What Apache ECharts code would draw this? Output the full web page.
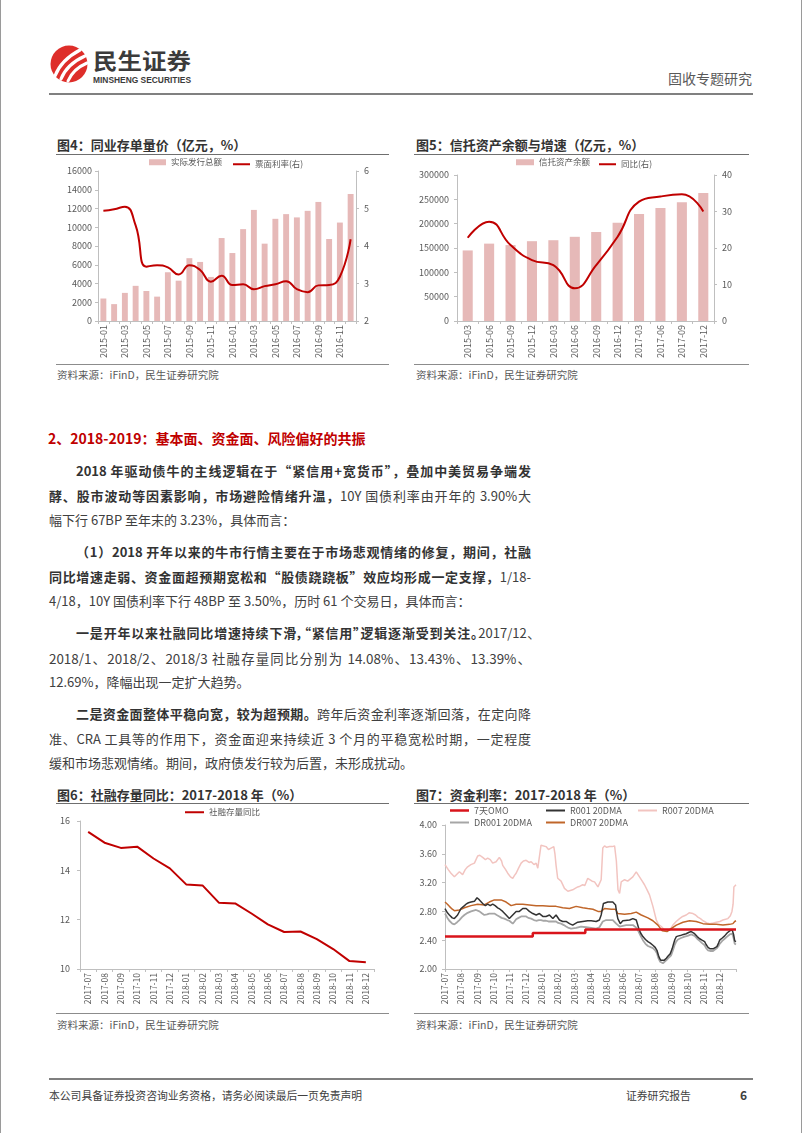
<!DOCTYPE html>
<html><head><meta charset="utf-8">
<script src="https://cdn.jsdelivr.net/npm/echarts@6/dist/echarts.min.js"></script>
<style>
html,body{margin:0;padding:0;background:#fff;}
#page{position:relative;width:802px;height:1133px;overflow:hidden;font-family:'Noto Sans CJK SC','Noto Sans',sans-serif;color:#404040;box-sizing:border-box;border-left:1px solid #9a9a9a;border-right:1px solid #9a9a9a;}
.a{position:absolute;white-space:nowrap;}
.ln{position:absolute;height:20px;line-height:20px;font-size:13px;white-space:nowrap;color:#404040;}
.j{text-align:justify;text-align-last:justify;}
.p{font-feature-settings:"palt";}
.ln b{color:#333;font-weight:700;}
.ttl{position:absolute;font-size:13px;font-weight:700;color:#333;height:18px;line-height:18px;white-space:nowrap;}
.rule{position:absolute;height:1px;background:#6f6f6f;}
.src{position:absolute;font-size:10.5px;color:#595959;height:14px;line-height:14px;white-space:nowrap;}
#chart{position:absolute;left:0;top:0;width:802px;height:1133px;}
</style></head>
<body>
<div id="page">
  <svg class="a" style="left:0;top:0" width="260" height="100" viewBox="0 0 260 100">
    <circle cx="68" cy="64" r="18.5" fill="#DE2E2A"/>
    <path d="M54,76 Q60,60 79,50" stroke="#fff" stroke-width="3.2" fill="none" stroke-linecap="round"/>
    <path d="M60,79 Q66,64 84,56" stroke="#fff" stroke-width="3.2" fill="none" stroke-linecap="round"/>
    <path d="M67,81 Q72,69 86,63" stroke="#fff" stroke-width="3" fill="none" stroke-linecap="round"/>
    <text x="92" y="69" font-size="22" font-weight="700" fill="#3b3b3b" font-family="Noto Sans CJK SC" textLength="98" lengthAdjust="spacingAndGlyphs">民生证券</text>
    <text x="92" y="82.5" font-size="8.5" font-weight="700" fill="#3b3b3b" font-family="Liberation Sans" textLength="98" lengthAdjust="spacingAndGlyphs">MINSHENG SECURITIES</text>
  </svg>
  <div class="a" style="right:49px;top:69px;font-size:14px;color:#595959;line-height:18px;">固收专题研究</div>
  <div class="a" style="left:48px;top:93px;width:704px;height:2px;background:#808080;"></div>

  <div class="ttl" style="left:56px;top:136px;">图4：同业存单量价（亿元，%）</div>
  <div class="rule" style="left:55px;top:154px;width:333px;"></div>
  <div class="rule" style="left:55px;top:364px;width:333px;background:#8c8c8c;"></div>
  <div class="src" style="left:56px;top:368px;">资料来源：iFinD，民生证券研究院</div>

  <div class="ttl" style="left:415px;top:136px;">图5：信托资产余额与增速（亿元，%）</div>
  <div class="rule" style="left:413px;top:154px;width:335px;"></div>
  <div class="rule" style="left:413px;top:364px;width:335px;background:#8c8c8c;"></div>
  <div class="src" style="left:415px;top:368px;">资料来源：iFinD，民生证券研究院</div>

  <div class="a" style="left:47px;top:429px;font-size:14px;font-weight:700;color:#C00000;line-height:18px;">2、2018-2019：基本面、资金面、风险偏好的共振</div>

  <div class="ln j" style="left:75px;top:461px;width:455px;"><b>2018 年驱动债牛的主线逻辑在于“紧信用+宽货币”，叠加中美贸易争端发</b></div>
  <div class="ln j" style="left:48px;top:485.5px;width:482px;"><b>酵、股市波动等因素影响，市场避险情绪升温，</b>10Y 国债利率由开年的 3.90%大</div>
  <div class="ln" style="left:48px;top:510px;">幅下行 67BP 至年末的 3.23%，具体而言：</div>

  <div class="ln j" style="left:75px;top:542px;width:455px;"><b>（1）2018 开年以来的牛市行情主要在于市场悲观情绪的修复，期间，社融</b></div>
  <div class="ln j" style="left:48px;top:566.5px;width:482px;"><b>同比增速走弱、资金面超预期宽松和“股债跷跷板”效应均形成一定支撑，</b>1/18-</div>
  <div class="ln" style="left:48px;top:591px;">4/18，10Y 国债利率下行 48BP 至 3.50%，历时 61 个交易日，具体而言：</div>

  <div class="ln j p" style="left:75px;top:623px;width:458px;"><b>一是开年以来社融同比增速持续下滑，“紧信用”逻辑逐渐受到关注。</b>2017/12、</div>
  <div class="ln j" style="left:48px;top:647.5px;width:482px;font-size:13.4px;">2018/1、2018/2、2018/3 社融存量同比分别为 14.08%、13.43%、13.39%、</div>
  <div class="ln" style="left:48px;top:672px;">12.69%，降幅出现一定扩大趋势。</div>

  <div class="ln j" style="left:75px;top:704px;width:455px;"><b>二是资金面整体平稳向宽，较为超预期。</b>跨年后资金利率逐渐回落，在定向降</div>
  <div class="ln j" style="left:48px;top:728.5px;width:482px;">准、CRA 工具等的作用下，资金面迎来持续近 3 个月的平稳宽松时期，一定程度</div>
  <div class="ln" style="left:48px;top:753px;">缓和市场悲观情绪。期间，政府债发行较为后置，未形成扰动。</div>

  <div class="ttl" style="left:56px;top:786px;">图6：社融存量同比：2017-2018 年（%）</div>
  <div class="rule" style="left:55px;top:803px;width:333px;"></div>
  <div class="rule" style="left:55px;top:1013px;width:333px;background:#8c8c8c;"></div>
  <div class="src" style="left:56px;top:1018px;">资料来源：iFinD，民生证券研究院</div>

  <div class="ttl" style="left:415px;top:786px;">图7：资金利率：2017-2018 年（%）</div>
  <div class="rule" style="left:413px;top:803px;width:335px;"></div>
  <div class="rule" style="left:413px;top:1013px;width:335px;background:#8c8c8c;"></div>
  <div class="src" style="left:415px;top:1018px;">资料来源：iFinD，民生证券研究院</div>

  <div class="a" style="left:48px;top:1078px;width:704px;height:1.5px;background:#7f7f7f;"></div>
  <div class="a" style="left:48px;top:1088px;font-size:10.8px;color:#404040;line-height:15px;">本公司具备证券投资咨询业务资格，请务必阅读最后一页免责声明</div>
  <div class="a" style="left:625px;top:1088px;font-size:10.8px;color:#404040;line-height:15px;">证券研究报告</div>
  <div class="a" style="left:739px;top:1087px;font-size:12px;font-weight:700;color:#404040;line-height:15px;">6</div>

  <div id="chart"></div>
</div>
<script>
// ---------- Figure 4 ----------
const c4Months = ['2015-01','2015-02','2015-03','2015-04','2015-05','2015-06','2015-07','2015-08','2015-09','2015-10','2015-11','2015-12',
                  '2016-01','2016-02','2016-03','2016-04','2016-05','2016-06','2016-07','2016-08','2016-09','2016-10','2016-11','2016-12'];
const c4Issue = [2400,1800,3000,3750,3200,2600,5200,4300,6700,6300,4700,8850,7250,9800,11850,8250,10900,11400,11050,11750,12700,8750,10500,13550];
const c4Rate  = [4.94,4.98,5.05,4.55,3.45,3.49,3.43,3.24,3.49,3.36,3.05,3.21,2.96,2.98,2.85,2.93,2.98,3.06,2.85,2.77,2.95,2.96,3.18,4.18];

// ---------- Figure 5 ----------
const c5Quarters = ['2015-03','2015-06','2015-09','2015-12','2016-03','2016-06','2016-09','2016-12','2017-03','2017-06','2017-09','2017-12'];
const c5Assets = [145000,159000,156000,164000,166000,173000,183000,202000,220000,232000,244000,263000];
const c5Growth = [22.8,27.2,20.8,16.7,15.3,8.95,15.3,23.1,32.7,34.1,34.7,30.0];

// ---------- Figure 6 ----------
const c6Months = ['2017-07','2017-08','2017-09','2017-10','2017-11','2017-12','2018-01','2018-02','2018-03','2018-04','2018-05','2018-06',
                  '2018-07','2018-08','2018-09','2018-10','2018-11','2018-12'];
const c6Tsf = [15.56,15.12,14.91,14.96,14.48,14.08,13.43,13.39,12.69,12.66,12.25,11.81,11.50,11.52,11.21,10.81,10.32,10.27];

// ---------- Figure 7 (x = months elapsed since 2017-07-01) ----------
const c7Months = c6Months;
const omo = [[0,2.45],[5.43,2.50],[8.68,2.55],[18,2.55]];
const r001 = [[0,2.84],[0.15,2.78],[0.27,2.75],[0.45,2.71],[0.58,2.70],[0.78,2.75],[0.99,2.84],[1.15,2.87],[1.3,2.90],[1.45,2.92],[1.61,2.93],[1.82,2.94],[1.98,2.99],[2.13,2.96],[2.33,2.91],[2.5,2.88],[2.64,2.90],[2.8,2.88],[2.95,2.90],[3.1,2.88],[3.26,2.85],[3.4,2.83],[3.57,2.80],[3.78,2.75],[3.98,2.70],[4.1,2.72],[4.19,2.75],[4.4,2.80],[4.6,2.80],[4.81,2.84],[5.02,2.84],[5.22,2.80],[5.43,2.77],[5.64,2.75],[5.84,2.77],[6.05,2.73],[6.25,2.73],[6.46,2.75],[6.67,2.70],[6.87,2.75],[7.08,2.68],[7.28,2.66],[7.49,2.66],[7.7,2.63],[7.9,2.61],[8.05,2.63],[8.21,2.65],[8.52,2.66],[8.83,2.67],[9.04,2.67],[9.35,2.66],[9.55,2.68],[9.66,2.75],[9.8,2.91],[10.07,2.93],[10.38,2.93],[10.55,2.89],[10.62,2.78],[10.69,2.70],[10.84,2.63],[11.0,2.67],[11.11,2.69],[11.42,2.68],[11.62,2.70],[11.83,2.68],[11.99,2.56],[12.1,2.50],[12.24,2.45],[12.4,2.41],[12.55,2.38],[12.7,2.36],[12.86,2.33],[13.0,2.30],[13.11,2.26],[13.2,2.19],[13.27,2.15],[13.35,2.12],[13.44,2.11],[13.55,2.12],[13.69,2.15],[13.8,2.18],[13.93,2.21],[14.05,2.28],[14.14,2.35],[14.22,2.41],[14.31,2.45],[14.45,2.46],[14.62,2.47],[14.75,2.48],[14.92,2.49],[15.1,2.51],[15.23,2.52],[15.35,2.51],[15.44,2.49],[15.6,2.45],[15.75,2.42],[15.9,2.40],[16.06,2.38],[16.15,2.34],[16.27,2.30],[16.4,2.28],[16.58,2.28],[16.7,2.29],[16.82,2.31],[16.92,2.36],[16.99,2.40],[17.15,2.43],[17.3,2.46],[17.45,2.50],[17.61,2.53],[17.77,2.54],[17.85,2.48],[17.92,2.39],[18,2.38]];
const r007 = [[0,3.45],[0.2,3.38],[0.37,3.33],[0.58,3.28],[0.75,3.32],[0.89,3.35],[1.09,3.31],[1.25,3.38],[1.4,3.42],[1.6,3.45],[1.82,3.47],[2.02,3.57],[2.15,3.58],[2.33,3.55],[2.5,3.52],[2.64,3.54],[2.8,3.52],[2.95,3.47],[3.16,3.49],[3.36,3.55],[3.5,3.50],[3.57,3.44],[3.75,3.38],[3.88,3.33],[4.05,3.28],[4.19,3.26],[4.3,3.30],[4.4,3.33],[4.55,3.40],[4.71,3.47],[4.85,3.50],[5.02,3.51],[5.2,3.48],[5.33,3.49],[5.5,3.45],[5.64,3.47],[5.74,3.40],[5.84,3.38],[5.94,3.72],[6.05,3.73],[6.25,3.70],[6.4,3.66],[6.56,3.68],[6.73,3.70],[6.8,3.60],[6.87,3.44],[6.97,3.26],[7.18,3.22],[7.39,3.12],[7.6,3.08],[7.75,3.09],[7.9,3.10],[8.05,3.12],[8.21,3.14],[8.35,3.15],[8.52,3.17],[8.65,3.16],[8.83,3.26],[8.94,3.28],[9.1,3.22],[9.25,3.21],[9.46,3.14],[9.66,3.24],[9.76,3.68],[9.87,3.71],[10.0,3.69],[10.18,3.70],[10.35,3.70],[10.49,3.71],[10.6,3.50],[10.7,3.10],[10.8,3.05],[10.9,3.21],[11.11,3.24],[11.3,3.22],[11.42,3.24],[11.62,3.28],[11.83,3.35],[12.03,3.28],[12.2,3.22],[12.34,3.17],[12.5,3.10],[12.65,3.03],[12.86,2.87],[13.07,2.68],[13.2,2.62],[13.38,2.59],[13.55,2.55],[13.69,2.54],[13.89,2.54],[14.1,2.61],[14.3,2.66],[14.51,2.70],[14.7,2.73],[14.92,2.75],[15.1,2.78],[15.34,2.77],[15.5,2.75],[15.64,2.72],[15.8,2.70],[15.96,2.67],[16.2,2.64],[16.37,2.63],[16.6,2.64],[16.78,2.65],[17.0,2.66],[17.19,2.68],[17.35,2.69],[17.5,2.70],[17.65,2.74],[17.75,2.80],[17.82,2.90],[17.87,3.14],[18,3.17]];
const dr001 = [[0,2.77],[0.15,2.71],[0.27,2.67],[0.45,2.63],[0.58,2.62],[0.75,2.65],[0.89,2.68],[1.05,2.72],[1.2,2.75],[1.4,2.78],[1.61,2.80],[1.92,2.82],[2.13,2.80],[2.3,2.77],[2.43,2.75],[2.6,2.76],[2.74,2.77],[3.05,2.77],[3.2,2.75],[3.36,2.73],[3.5,2.71],[3.67,2.70],[3.85,2.68],[3.98,2.67],[4.19,2.63],[4.3,2.66],[4.4,2.69],[4.55,2.71],[4.71,2.73],[5.02,2.73],[5.15,2.71],[5.33,2.70],[5.5,2.68],[5.64,2.67],[5.8,2.68],[5.94,2.68],[6.1,2.67],[6.25,2.67],[6.4,2.66],[6.56,2.66],[6.87,2.66],[7.0,2.64],[7.18,2.63],[7.35,2.61],[7.49,2.59],[7.65,2.57],[7.8,2.56],[8.11,2.57],[8.42,2.59],[8.73,2.58],[9.04,2.57],[9.35,2.56],[9.55,2.58],[9.76,2.66],[9.97,2.68],[10.38,2.68],[10.59,2.63],[10.8,2.59],[11.0,2.60],[11.21,2.61],[11.62,2.61],[11.8,2.58],[11.93,2.54],[12.1,2.46],[12.24,2.40],[12.4,2.35],[12.55,2.32],[12.86,2.29],[13.0,2.26],[13.11,2.22],[13.2,2.15],[13.31,2.10],[13.48,2.08],[13.6,2.10],[13.73,2.13],[13.85,2.16],[13.99,2.19],[14.1,2.26],[14.2,2.33],[14.3,2.38],[14.41,2.41],[14.6,2.43],[14.82,2.45],[15.0,2.46],[15.23,2.48],[15.35,2.47],[15.44,2.46],[15.6,2.42],[15.75,2.39],[15.9,2.36],[16.06,2.33],[16.15,2.29],[16.27,2.26],[16.4,2.25],[16.58,2.25],[16.7,2.26],[16.82,2.29],[16.92,2.32],[16.99,2.35],[17.15,2.39],[17.3,2.42],[17.45,2.45],[17.61,2.48],[17.77,2.49],[17.85,2.43],[17.92,2.35],[18,2.34]];
const dr007 = [[0,2.93],[0.15,2.90],[0.27,2.87],[0.45,2.83],[0.58,2.81],[0.89,2.82],[1.2,2.85],[1.61,2.88],[2.02,2.90],[2.43,2.89],[2.74,2.93],[3.05,2.96],[3.47,2.96],[3.78,2.93],[4.09,2.88],[4.4,2.90],[4.81,2.90],[5.22,2.89],[5.64,2.88],[6.05,2.88],[6.46,2.87],[6.87,2.87],[7.28,2.85],[7.7,2.84],[8.11,2.87],[8.52,2.85],[8.83,2.84],[9.15,2.83],[9.46,2.80],[9.66,2.80],[9.87,2.84],[10.28,2.83],[10.55,2.83],[10.69,2.77],[11.11,2.76],[11.52,2.77],[11.83,2.79],[12.14,2.75],[12.55,2.71],[12.86,2.67],[13.17,2.61],[13.44,2.53],[13.73,2.52],[13.99,2.56],[14.31,2.61],[14.72,2.65],[15.13,2.67],[15.54,2.66],[15.96,2.63],[16.37,2.62],[16.78,2.62],[17.19,2.61],[17.61,2.62],[17.81,2.63],[17.92,2.66],[18,2.67]];

const F = "'Noto Sans CJK SC','Noto Sans',sans-serif";
const AX = '#bfbfbf', TX = '#595959';
const axLine = {show:true, lineStyle:{color:AX, width:1}};
const axTick = {show:true, length:3, lineStyle:{color:AX}};
const plain = function(v){ return String(v); };
function lab(extra){ return Object.assign({color:TX, fontSize:9, fontFamily:F}, extra||{}); }
function leg(name, left, top, w, h, fs){
  return {data:[{name:name, icon:'rect'}], left:left, top:top, itemWidth:w, itemHeight:h, padding:0, selectedMode:false,
          textStyle:{color:TX, fontSize:fs, fontFamily:F}};
}

const chart = echarts.init(document.getElementById('chart'), null, {renderer:'canvas'});
chart.setOption({
  animation:false,
  backgroundColor:'transparent',
  legend:[
    leg('实际发行总额',148,158,17,6,8.5),
    leg('票面利率(右)',232,160,17,2,8.5),
    leg('信托资产余额',515,158,18,6,8.5),
    leg('同比(右)',598,160,17,2,8.5),
    leg('社融存量同比',184,808,19,2,8.5),
    leg('7天OMO',449,806,19,2.5,9),
    leg('R001 20DMA',545,806,19,2,9),
    leg('R007 20DMA',637,806,19,2,9),
    leg('DR001 20DMA',449,818,19,2,9),
    leg('DR007 20DMA',545,818,19,2,9)
  ],
  grid:[
    {left:97, top:171, width:258, height:150},
    {left:456, top:175, width:257, height:146},
    {left:79, top:821, width:294, height:148},
    {left:444, top:825, width:291, height:144}
  ],
  xAxis:[
    {gridIndex:0, type:'category', data:c4Months, boundaryGap:true, axisLine:axLine, axisTick:Object.assign({interval:0},axTick),
     axisLabel:lab({interval:1, rotate:90, margin:4})},
    {gridIndex:1, type:'category', data:c5Quarters, boundaryGap:true, axisLine:axLine, axisTick:Object.assign({interval:0},axTick),
     axisLabel:lab({interval:0, rotate:90, margin:4})},
    {gridIndex:2, type:'category', data:c6Months, boundaryGap:true, axisLine:axLine, axisTick:Object.assign({interval:0},axTick),
     axisLabel:lab({interval:0, rotate:90, margin:4, fontSize:8.5})},
    {gridIndex:3, type:'value', min:0, max:18, interval:1, axisLine:axLine, axisTick:axTick, splitLine:{show:false},
     axisLabel:lab({rotate:90, margin:4, fontSize:8.5, formatter:function(v){ return (Number.isInteger(v) && v < c7Months.length) ? c7Months[v] : ''; }})}
  ],
  yAxis:[
    {gridIndex:0, type:'value', min:0, max:16000, interval:2000, axisLine:axLine, axisTick:axTick, splitLine:{show:false}, axisLabel:lab({margin:6, formatter:plain})},
    {gridIndex:0, type:'value', position:'right', min:2, max:6, interval:1, axisLine:axLine, axisTick:axTick, splitLine:{show:false}, axisLabel:lab({margin:8, formatter:plain})},
    {gridIndex:1, type:'value', min:0, max:300000, interval:50000, axisLine:axLine, axisTick:axTick, splitLine:{show:false}, axisLabel:lab({margin:8, formatter:plain})},
    {gridIndex:1, type:'value', position:'right', min:0, max:40, interval:10, axisLine:axLine, axisTick:axTick, splitLine:{show:false}, axisLabel:lab({margin:8, formatter:plain})},
    {gridIndex:2, type:'value', min:10, max:16, interval:2, axisLine:axLine, axisTick:axTick, splitLine:{show:false}, axisLabel:lab({margin:10, formatter:plain})},
    {gridIndex:3, type:'value', min:2, max:4, interval:0.4, axisLine:axLine, axisTick:axTick, splitLine:{show:false},
     axisLabel:lab({margin:8, formatter:function(v){ return v.toFixed(2); }})}
  ],
  series:[
    {name:'实际发行总额', type:'bar', xAxisIndex:0, yAxisIndex:0, data:c4Issue, barWidth:'55%', itemStyle:{color:'#E6B9B8'}},
    {name:'票面利率(右)', type:'line', xAxisIndex:0, yAxisIndex:1, data:c4Rate, smooth:true, symbol:'none', lineStyle:{color:'#C00000', width:2}, itemStyle:{color:'#C00000'}},
    {name:'信托资产余额', type:'bar', xAxisIndex:1, yAxisIndex:2, data:c5Assets, barWidth:'47%', itemStyle:{color:'#E6B9B8'}},
    {name:'同比(右)', type:'line', xAxisIndex:1, yAxisIndex:3, data:c5Growth, smooth:true, symbol:'none', lineStyle:{color:'#C00000', width:2}, itemStyle:{color:'#C00000'}},
    {name:'社融存量同比', type:'line', xAxisIndex:2, yAxisIndex:4, data:c6Tsf, smooth:false, symbol:'none', lineStyle:{color:'#C00000', width:2}, itemStyle:{color:'#C00000'}},
    {name:'R007 20DMA', type:'line', xAxisIndex:3, yAxisIndex:5, data:r007, symbol:'none', lineStyle:{color:'#F2C4C0', width:1.5}, itemStyle:{color:'#F2C4C0'}},
    {name:'DR007 20DMA', type:'line', xAxisIndex:3, yAxisIndex:5, data:dr007, symbol:'none', lineStyle:{color:'#C0662A', width:1.5}, itemStyle:{color:'#C0662A'}},
    {name:'DR001 20DMA', type:'line', xAxisIndex:3, yAxisIndex:5, data:dr001, symbol:'none', lineStyle:{color:'#A6A6A6', width:1.8}, itemStyle:{color:'#A6A6A6'}},
    {name:'R001 20DMA', type:'line', xAxisIndex:3, yAxisIndex:5, data:r001, symbol:'none', lineStyle:{color:'#333333', width:1.5}, itemStyle:{color:'#333333'}},
    {name:'7天OMO', type:'line', xAxisIndex:3, yAxisIndex:5, data:omo, step:'end', symbol:'none', lineStyle:{color:'#D9141B', width:2.5}, itemStyle:{color:'#D9141B'}}
  ]
});
</script>
</body></html>
